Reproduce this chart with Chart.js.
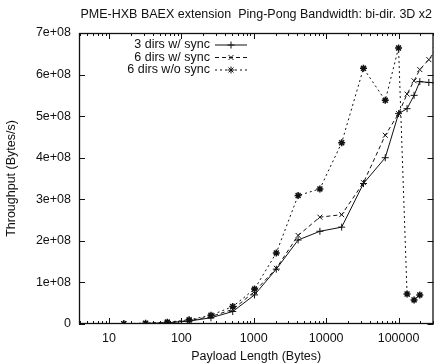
<!DOCTYPE html>
<html>
<head>
<meta charset="utf-8">
<title>PME-HXB BAEX extension Ping-Pong Bandwidth</title>
<script src="https://cdn.jsdelivr.net/npm/chart.js@4.4.1/dist/chart.umd.min.js"></script>
<style>
  html, body { margin: 0; padding: 0; background: #fff; }
  #chart { display: block; }
</style>
</head>
<body>
<canvas id="chart" width="439" height="364"></canvas>
<script>
const TITLE = "PME-HXB BAEX extension  Ping-Pong Bandwidth: bi-dir. 3D x2";

// payload sizes in bytes (last one sits past the right edge, lines run into the frame)
const payloadBytes = [16, 32, 64, 128, 256, 512, 1024, 2048, 4096, 8192, 16384, 32768, 65536,
  100000, 131072, 163840, 196608, 262144, 327680];

const threeDirsSync = [0.5e6, 1.2e6, 3e6, 7e6, 1.5e7, 3.0e7, 7.0e7, 1.32e8, 2.02e8, 2.23e8, 2.33e8,
  3.38e8, 4.0e8, 5.06e8, 5.18e8, 5.5e8, 5.83e8, 5.81e8, 5.8e8];
const sixDirsSync = [0.6e6, 1.5e6, 3.5e6, 8e6, 1.8e7, 3.5e7, 7.8e7, 1.34e8, 2.13e8, 2.57e8, 2.63e8,
  3.4e8, 4.54e8, 5.06e8, 5.53e8, 5.85e8, 6.12e8, 6.36e8, 6.6e8];
const sixDirsNoSync = [0.8e6, 2e6, 4.5e6, 1.0e7, 2.1e7, 4.2e7, 8.4e7, 1.71e8, 3.09e8, 3.25e8, 4.36e8,
  6.15e8, 5.38e8, 6.64e8, 0.72e8, 0.58e8, 0.70e8];

const seriesLabels = ["3 dirs w/ sync", "6 dirs w/ sync", "6 dirs w/o sync"];

const xTickValues = [10, 100, 1000, 10000, 100000];
const yTickValues = [0, 1e8, 2e8, 3e8, 4e8, 5e8, 6e8, 7e8];
const yTickLabels = ["0", "1e+08", "2e+08", "3e+08", "4e+08", "5e+08", "6e+08", "7e+08"];

const FONT = { family: "'Liberation Sans', Arial, sans-serif", size: 12.5 };
const INK = "#111";

function toPoints(values) {
  return values.map((v, i) => ({ x: payloadBytes[i], y: v }));
}

function lineSet(label, values, pointStyle, dash, pointWidth) {
  return {
    label,
    data: toPoints(values),
    borderColor: INK,
    backgroundColor: "rgba(0,0,0,0)",
    borderWidth: 1,
    borderDash: dash,
    pointStyle,
    pointRadius: 3.5,
    pointBorderWidth: pointWidth,
    pointBorderColor: INK,
    tension: 0
  };
}

// gnuplot style box with inward ticks on all four sides
const framePlugin = {
  id: "frame",
  afterDraw(chart) {
    const { ctx, chartArea: a, scales } = chart;
    ctx.save();
    ctx.strokeStyle = INK;
    ctx.lineWidth = 1;
    ctx.beginPath();
    yTickValues.forEach((v) => {
      const y = Math.round(scales.y.getPixelForValue(v)) + 0.5;
      ctx.moveTo(a.left, y);
      ctx.lineTo(a.left + 6, y);
      ctx.moveTo(a.right, y);
      ctx.lineTo(a.right - 6, y);
    });
    for (let p = 1; p <= 100000; p *= 10) {
      for (let m = 1; m < 10; m++) {
        const v = p * m;
        if (v < scales.x.min || v > scales.x.max) continue;
        const len = m === 1 ? 6 : 3;
        const x = Math.round(scales.x.getPixelForValue(v)) + 0.5;
        ctx.moveTo(x, a.bottom);
        ctx.lineTo(x, a.bottom - len);
        ctx.moveTo(x, a.top);
        ctx.lineTo(x, a.top + len);
      }
    }
    ctx.stroke();
    ctx.lineWidth = 1.3;
    ctx.strokeRect(a.left + 0.5, a.top + 0.5, a.right - a.left - 1, a.bottom - a.top - 1);

    ctx.fillStyle = INK;
    ctx.font = `${FONT.size}px ${FONT.family}`;
    ctx.textAlign = "center";
    ctx.textBaseline = "middle";
    ctx.fillText(TITLE, (a.left + a.right) / 2, 15);
    ctx.restore();
  }
};

// key in the upper left: right aligned text, then a line sample with its marker
const keyPlugin = {
  id: "key",
  afterDraw(chart) {
    const { ctx, chartArea: a } = chart;
    ctx.save();
    ctx.font = `${FONT.size}px ${FONT.family}`;
    ctx.textAlign = "right";
    ctx.textBaseline = "middle";
    chart.data.datasets.forEach((ds, i) => {
      const y = a.top + 12 + i * 12.5;
      const textX = a.left + 131;
      ctx.fillStyle = INK;
      ctx.fillText(ds.label, textX, y);
      ctx.strokeStyle = INK;
      ctx.lineWidth = 1;
      ctx.setLineDash(ds.borderDash);
      ctx.beginPath();
      ctx.moveTo(textX + 5, y);
      ctx.lineTo(textX + 37, y);
      ctx.stroke();
      ctx.setLineDash([]);
      Chart.helpers.drawPoint(ctx, {
        pointStyle: ds.pointStyle,
        radius: ds.pointRadius,
        rotation: 0,
        borderWidth: ds.pointBorderWidth
      }, textX + 21, y);
    });
    ctx.restore();
  }
};

new Chart(document.getElementById("chart"), {
  type: "line",
  data: {
    datasets: [
      lineSet(seriesLabels[0], threeDirsSync, "cross", [], 1),
      lineSet(seriesLabels[1], sixDirsSync, "crossRot", [4, 3], 1),
      lineSet(seriesLabels[2], sixDirsNoSync, "star", [2, 3], 1.5)
    ]
  },
  options: {
    responsive: false,
    animation: false,
    devicePixelRatio: 1,
    layout: { padding: { top: 33, right: 2, left: 0, bottom: 0 } },
    scales: {
      x: {
        type: "logarithmic",
        min: 3.85,
        max: 304000,
        grid: { display: false, drawTicks: false },
        border: { display: false },
        afterBuildTicks: (scale) => {
          scale.ticks = xTickValues.map((value) => ({ value }));
        },
        afterFit: (scale) => {
          scale.height = 40;
        },
        ticks: {
          autoSkip: false,
          maxRotation: 0,
          padding: 7,
          color: INK,
          font: FONT,
          callback: (value) => String(value)
        },
        title: {
          display: true,
          text: "Payload Length (Bytes)",
          color: INK,
          font: FONT,
          padding: { top: 0, bottom: 0 }
        }
      },
      y: {
        type: "linear",
        min: 0,
        max: 7e8,
        grid: { display: false, drawTicks: false },
        border: { display: false },
        afterBuildTicks: (scale) => {
          scale.ticks = yTickValues.map((value) => ({ value }));
        },
        afterFit: (scale) => {
          scale.width = 79;
        },
        ticks: {
          padding: 8,
          color: INK,
          font: FONT,
          callback: (value) => yTickLabels[yTickValues.indexOf(value)]
        },
        title: {
          display: true,
          text: "Throughput (Bytes/s)",
          color: INK,
          font: FONT,
          padding: { top: 4, bottom: 0 }
        }
      }
    },
    plugins: {
      legend: { display: false },
      tooltip: { enabled: false },
      title: { display: false }
    }
  },
  plugins: [framePlugin, keyPlugin]
});
</script>
</body>
</html>
